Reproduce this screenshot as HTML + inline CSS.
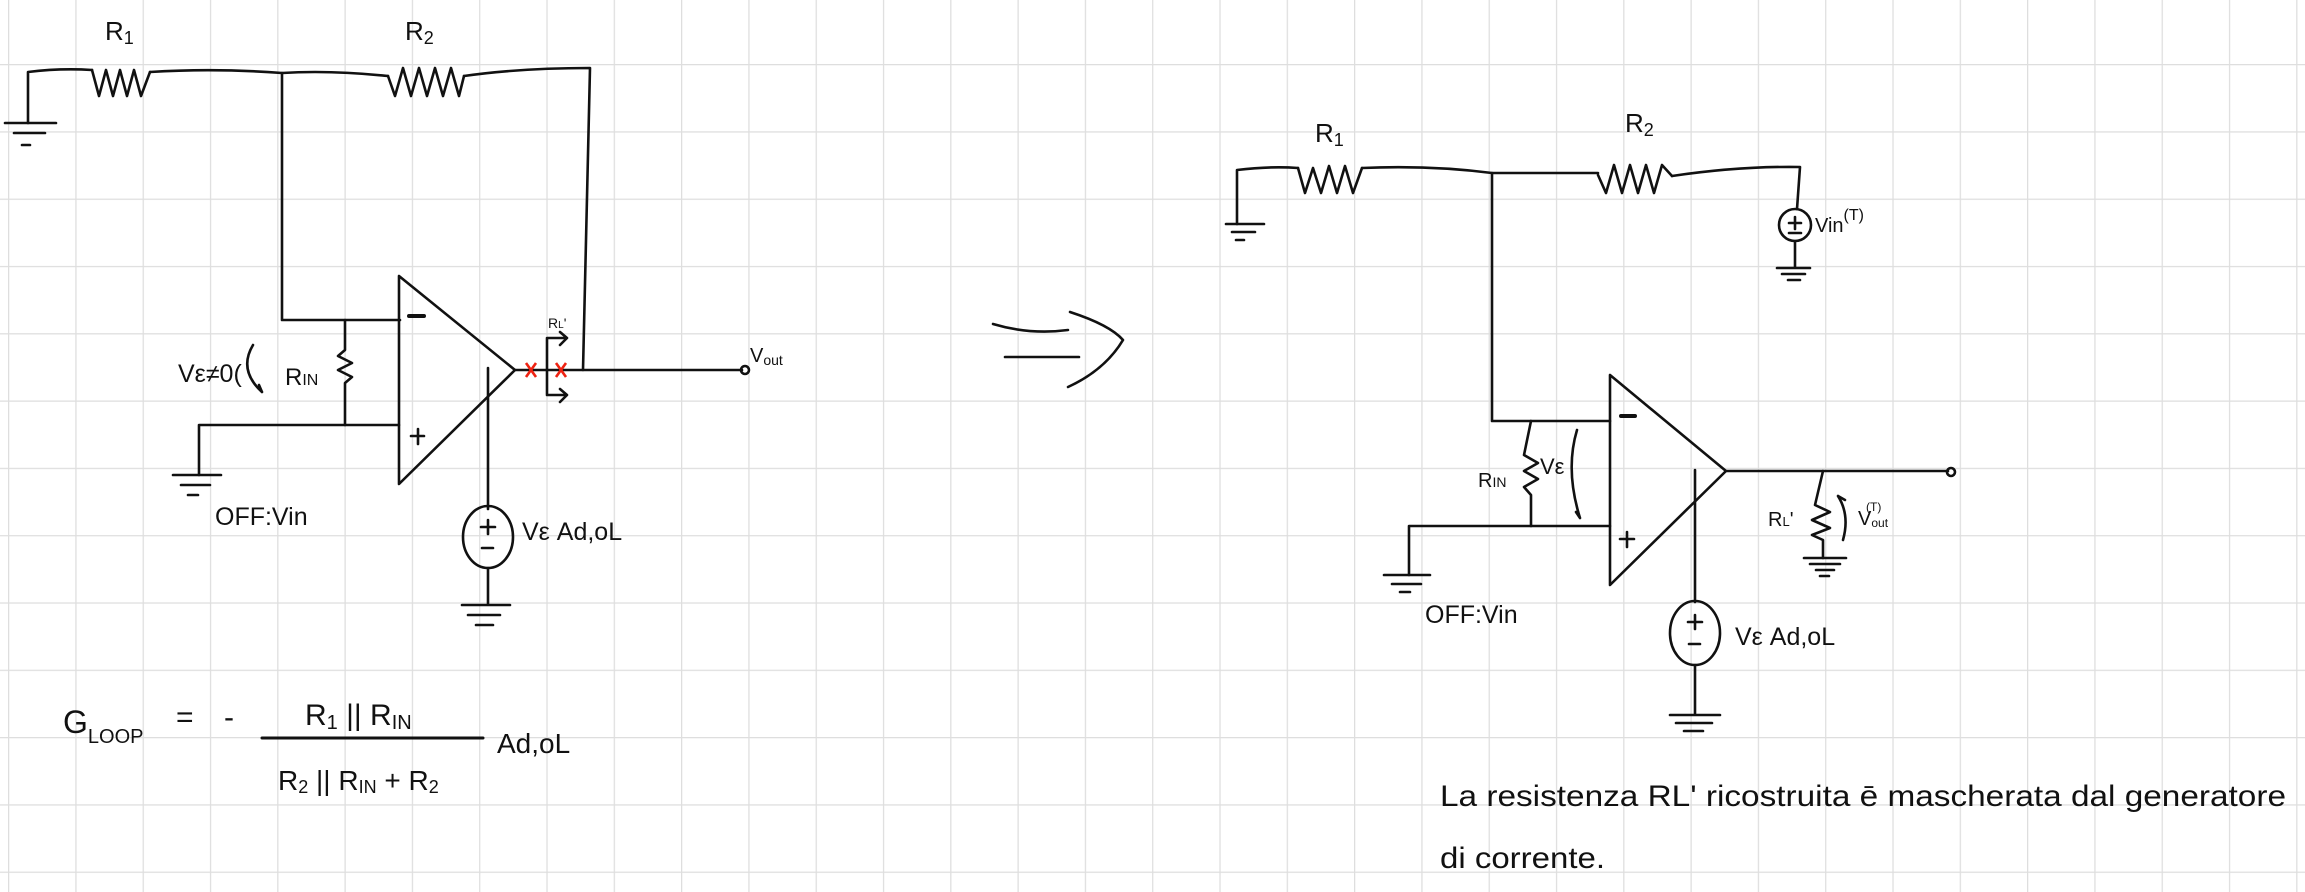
<!DOCTYPE html>
<html><head><meta charset="utf-8"><style>
html,body{margin:0;padding:0;background:#fff;}
svg{display:block}
text{font-family:"Liberation Sans",sans-serif;fill:#111;}
</style></head><body>
<svg width="2305" height="892" viewBox="0 0 2305 892" xmlns="http://www.w3.org/2000/svg">
<defs>
<pattern id="g" x="8" y="64" width="67.3" height="67.3" patternUnits="userSpaceOnUse">
<path d="M0,0 H67.3 M0,0 V67.3" stroke="#dedede" stroke-width="2.5" fill="none"/>
</pattern>
</defs>
<rect width="2305" height="892" fill="#fff"/>
<rect width="2305" height="892" fill="url(#g)"/>

<g stroke="#111" stroke-width="2.6" fill="none" stroke-linecap="round" stroke-linejoin="round">
<!-- LEFT CIRCUIT -->
<path d="M28,123 V72 Q60,68 92,70"/>
<path d="M92,70 L99,96 L106,70 L113,96 L120,70 L127,96 L134,70 L141,96 L150,72"/>
<path d="M150,72 Q215,68 282,73 Q330,70 388,76"/>
<path d="M388,76 L395,96 L403,68 L411,96 L419,68 L427,96 L435,68 L443,96 L451,68 L459,96 L464,76"/>
<path d="M464,76 Q520,68 590,68 L583,370"/>
<path d="M5,123 H56 M14,133 H45 M22,145 H30"/>
<path d="M282,73 V320 H400"/>
<path d="M399,276 V484 L515,370 Z"/>
<path d="M409,316 H424" stroke-width="4"/>
<path d="M411,436 H424 M418,429 V444"/>
<path d="M199,475 V425 H399"/>
<path d="M173,475 H221 M181,485 H210 M188,495 H198"/>
<path d="M345,320 V350 L338,356 L352,363 L338,370 L352,377 L345,383 V425"/>
<path d="M515,370 H742"/>
<circle cx="745" cy="370" r="4"/>
<path d="M547,338 V395 M547,338 H565 M560,332 L567,338 L560,345 M547,395 H565 M560,389 L567,395 L560,402"/>
<path d="M488,368 V509"/>
<ellipse cx="488" cy="537" rx="25" ry="31"/>
<path d="M481,527 H495 M488,520 V534 M482,548 H493"/>
<path d="M488,568 V605 M462,605 H510 M468,615 H500 M476,625 H493"/>
<path d="M253,345 Q238,370 262,392 M262,392 L259,385"/>
<!-- arrow => -->
<path d="M993,324 Q1030,335 1068,330 M1005,357 H1079 M1070,312 Q1110,325 1123,340 Q1105,370 1068,387"/>
<!-- RIGHT CIRCUIT -->
<path d="M1237,224 V170 Q1270,166 1298,168"/>
<path d="M1298,168 L1305,193 L1313,168 L1321,193 L1329,166 L1337,193 L1345,166 L1353,193 L1362,168"/>
<path d="M1362,168 Q1430,165 1492,173 H1598"/>
<path d="M1598,175 L1606,193 L1614,165 L1622,193 L1630,165 L1638,193 L1646,165 L1654,193 L1662,165 L1672,176"/>
<path d="M1672,176 Q1740,166 1800,167 L1797,209"/>
<circle cx="1795" cy="225" r="16"/>
<path d="M1789,223 H1801 M1795,217 V229 M1789,233 H1801"/>
<path d="M1795,241 V268 M1777,268 H1810 M1782,274 H1805 M1788,280 H1800"/>
<path d="M1226,224 H1264 M1232,232 H1255 M1236,240 H1244"/>
<path d="M1492,173 V421 H1610"/>
<path d="M1610,375 V585 L1726,471 Z"/>
<path d="M1621,416 H1635" stroke-width="4"/>
<path d="M1620,539 H1634 M1627,532 V547"/>
<path d="M1409,575 V526 H1610"/>
<path d="M1384,575 H1430 M1392,584 H1421 M1400,592 H1410"/>
<path d="M1531,421 L1524,455 L1538,463 L1524,471 L1538,479 L1524,487 L1531,495 V526"/>
<path d="M1577,430 Q1565,470 1580,518 M1580,518 L1576,512"/>
<path d="M1726,471 H1948"/>
<circle cx="1951" cy="472" r="4"/>
<path d="M1823,471 L1815,505 L1830,512 L1812,520 L1830,528 L1812,535 L1823,540 V558"/>
<path d="M1804,558 H1846 M1810,564 H1840 M1816,570 H1834 M1820,576 H1829"/>
<path d="M1838,496 Q1850,515 1843,540 M1838,496 L1845,500"/>
<path d="M1695,470 V602"/>
<ellipse cx="1695" cy="633" rx="25" ry="32"/>
<path d="M1688,622 H1702 M1695,615 V629 M1689,644 H1700"/>
<path d="M1695,665 V715 M1670,715 H1720 M1676,723 H1712 M1684,731 H1703"/>
<!-- formula -->
<path d="M262,738 H483" stroke-width="3"/>
</g>
<g stroke="#e21" stroke-width="2.6">
<path d="M526,363 L536,377 M536,363 L526,377 M556,363 L566,377 M566,363 L556,377"/>
</g>

<g font-size="26">
<text x="105" y="40">R<tspan font-size="18" dy="4">1</tspan></text>
<text x="405" y="40">R<tspan font-size="18" dy="4">2</tspan></text>
<text x="548" y="328" font-size="14">R<tspan font-size="10">L</tspan>'</text>
<text x="750" y="362" font-size="20">V<tspan font-size="14" dy="3">out</tspan></text>
<text x="178" y="382" font-size="25">Vε≠0(</text>
<text x="285" y="385" font-size="24">R<tspan font-size="16">IN</tspan></text>
<text x="215" y="525" font-size="25">OFF:Vin</text>
<text x="522" y="540" font-size="25">Vε Ad,oL</text>

<text x="1315" y="142">R<tspan font-size="18" dy="4">1</tspan></text>
<text x="1625" y="132">R<tspan font-size="18" dy="4">2</tspan></text>
<text x="1815" y="232" font-size="20">Vin<tspan font-size="16" dy="-12">(T)</tspan></text>
<text x="1478" y="487" font-size="20">R<tspan font-size="14">IN</tspan></text>
<text x="1540" y="474" font-size="22">Vε</text>
<text x="1768" y="526" font-size="20">R<tspan font-size="13">L</tspan>'</text>
<text x="1858" y="525" font-size="20">V<tspan font-size="12" dy="2">out</tspan><tspan font-size="12" dx="-22" dy="-16">(T)</tspan></text>
<text x="1425" y="623" font-size="25">OFF:Vin</text>
<text x="1735" y="645" font-size="25">Vε Ad,oL</text>

<text x="63" y="733" font-size="32">G<tspan font-size="20" dy="10">LOOP</tspan></text>
<text x="176" y="727" font-size="30">=</text>
<text x="224" y="727" font-size="30">-</text>
<text x="305" y="725" font-size="30">R<tspan font-size="20" dy="4">1</tspan><tspan dy="-4"> || R</tspan><tspan font-size="20" dy="4">IN</tspan></text>
<text x="278" y="790" font-size="28">R<tspan font-size="18" dy="3">2</tspan><tspan dy="-3"> || R</tspan><tspan font-size="18" dy="3">IN</tspan><tspan dy="-3"> + R</tspan><tspan font-size="18" dy="3">2</tspan></text>
<text x="497" y="753" font-size="28">Ad,oL</text>

<text x="1440" y="806" font-size="30" textLength="846" lengthAdjust="spacingAndGlyphs">La resistenza RL' ricostruita ē mascherata dal generatore</text>
<text x="1440" y="868" font-size="30" textLength="165" lengthAdjust="spacingAndGlyphs">di corrente.</text>
</g>
</svg>
</body></html>
